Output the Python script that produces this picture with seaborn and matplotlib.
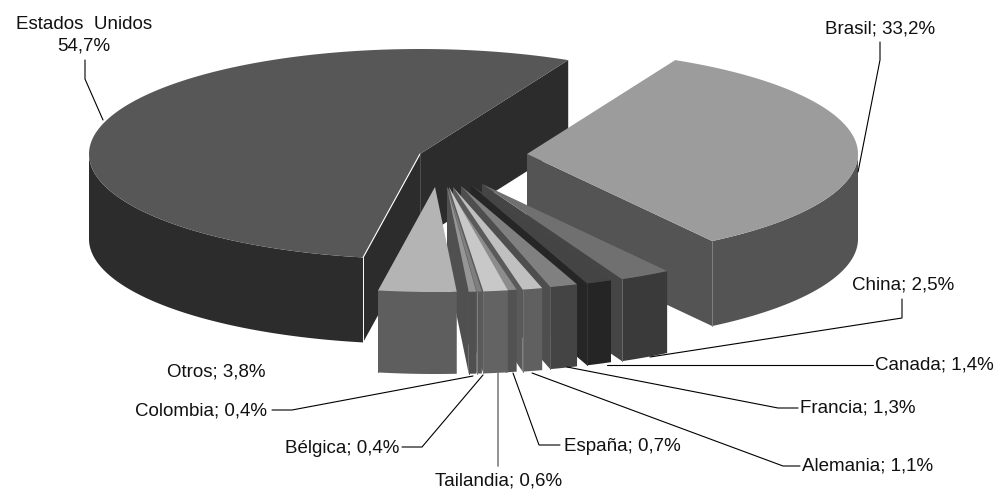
import matplotlib.pyplot as plt
import numpy as np
import seaborn as sns

# counter-clockwise from the big slice
countries = ["Estados  Unidos", "Otros", "Colombia", "Bélgica", "Tailandia", "España",
             "Alemania", "Francia", "Canada", "China", "Brasil"]
# printed percentages
shares = [54.7, 3.8, 0.4, 0.4, 0.6, 0.7, 1.1, 1.3, 1.4, 2.5, 33.2]
# slice sizes as measured on the drawing, the thin ones differ from what is printed
slice_sizes = [54.7, 3.8, 0.36, 0.25, 1.19, 0.53, 0.97, 1.36, 1.25, 2.5, 33.2]

# style and layout, in image pixels
START_ANGLE = 63.4
RX, RY = 331, 105
depths = [85, 82, 82, 82, 82, 82, 82, 82, 82, 82, 85]
apex_x = [420, 435, 447, 447.5, 449, 447, 453, 461, 471, 482, 527]
apex_y = [154, 187, 187, 187, 187, 187, 187, 186, 185, 184, 154]
top_colors = ["#575757", "#b4b4b4", "#969696", "#7e7e7e", "#c8c8c8", "#8c8c8c",
              "#c0c0c0", "#808080", "#444444", "#707070", "#9c9c9c"]
wall_colors = ["#2c2c2c", "#5e5e5e", "#505050", "#5a5a5a", "#636363", "#525252",
               "#606060", "#444444", "#252525", "#3a3a3a", "#545454"]
side_colors = ["#2c2c2c", "#5e5e5e", "#505050", "#606060", "#5a5a5a", "#5a5a5a",
               "#5a5a5a", "#4e4e4e", "#262626", "#454545", "#545454"]
edge_colors = ["#ffffff", "#5e5e5e", "#505050", "#808080", "#707070", "#707070",
               "#707070", "#606060", "#353535", "#6a6a6a", "#808080"]
draw_order = [0, 10, 9, 8, 7, 6, 5, 4, 3, 2, 1]

# label centre and leader line per country
label_pos = {
    "Estados  Unidos": (84, 35), "Brasil": (880, 29), "China": (903, 285),
    "Canada": (934, 365), "Francia": (858, 408), "Alemania": (868, 466),
    "España": (622, 446), "Tailandia": (499, 481), "Bélgica": (342, 448),
    "Colombia": (201, 411), "Otros": (216, 372),
}
leaders = {
    "Estados  Unidos": [(85, 60), (85, 79), (103, 120)],
    "Brasil": [(880, 42), (880, 60), (858, 172)],
    "China": [(902, 299), (902, 318), (650, 357)],
    "Canada": [(873, 365), (607, 365)],
    "Francia": [(798, 408), (778, 408), (567, 367)],
    "Alemania": [(800, 466), (783, 466), (532, 373)],
    "España": [(560, 445), (539, 445), (513, 373)],
    "Tailandia": [(498, 373), (498, 466)],
    "Bélgica": [(402, 447), (422, 447), (483, 375)],
    "Colombia": [(272, 410), (292, 410), (473, 376)],
}

sns.set_theme(style="white")
plt.rcParams["font.family"] = ["Liberation Sans", "DejaVu Sans"]

fig = plt.figure(figsize=(9.95, 4.9), dpi=100)
ax = fig.add_axes([0, 0, 1, 1])
ax.set_xlim(0, 995)
ax.set_ylim(490, 0)
ax.axis("off")

# slice limits from the sizes
spans = np.array(slice_sizes) / sum(slice_sizes) * 360
starts = START_ANGLE + np.concatenate([[0], np.cumsum(spans)[:-1]])


def rim(i, theta):
    rad = np.radians(theta)
    return apex_x[i] + RX * np.cos(rad), apex_y[i] - RY * np.sin(rad)


def draw_slice(i, z):
    a, b = starts[i], starts[i] + spans[i]
    ax0, ay0 = apex_x[i], apex_y[i]
    depth = depths[i]

    # radial walls
    sides = [a, b] if i == 0 else [a]
    for theta in sides:
        x, y = rim(i, theta)
        ax.fill([ax0, x, x, ax0], [ay0, y, y + depth, ay0 + depth],
                color=side_colors[i], lw=0, zorder=z)

    # outer wall, only the front half of the rim
    lo, hi = max(a, 180), min(b, 360)
    if hi > lo:
        t = np.linspace(lo, hi, 200)
        x, y = rim(i, t)
        ax.fill(np.r_[x, x[::-1]], np.r_[y, (y + depth)[::-1]],
                color=wall_colors[i], lw=0, zorder=z)
        # light seam down the corner
        xe, ye = rim(i, b if i == 0 else a)
        ax.plot([xe, xe], [ye, ye + depth], color=edge_colors[i], lw=0.7, zorder=z)

    # top face
    t = np.linspace(a, b, 300)
    x, y = rim(i, t)
    ax.fill(np.r_[ax0, x], np.r_[ay0, y], color=top_colors[i], lw=0, zorder=z)

    if i == 0:
        xe, ye = rim(i, b)
        ax.plot([ax0, xe], [ay0, ye], color="white", lw=0.8, zorder=z)
        ax.plot([ax0, ax0], [ay0, ay0 + depth], color="#505050", lw=0.7, zorder=z)


for n, idx in enumerate(draw_order):
    draw_slice(idx, 2 + n * 0.1)

for name, pts in leaders.items():
    xs, ys = zip(*pts)
    lw, col = (1.2, "#808080") if name == "Tailandia" else (0.8, "black")
    ax.plot(xs, ys, color=col, lw=lw, zorder=5, solid_joinstyle="miter")

for name, share in zip(countries, shares):
    value = f"{share:.1f}%".replace(".", ",")
    label = f"{name}\n{value}" if name.startswith("Estados") else f"{name}; {value}"
    x, y = label_pos[name]
    ax.text(x, y, label, ha="center", va="center", fontsize=13.5, color="#111111",
            linespacing=1.35, zorder=6)

fig.savefig("out.png", dpi=100)
